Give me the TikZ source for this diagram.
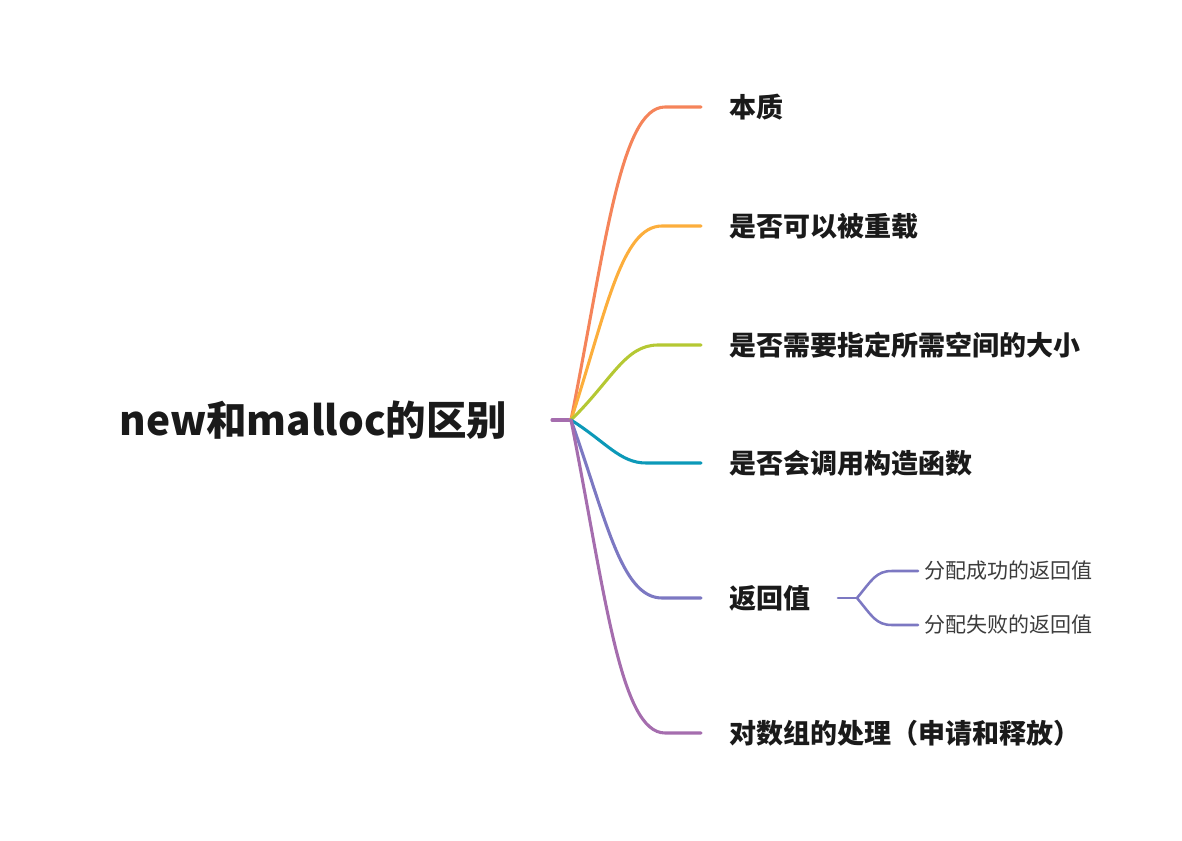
\documentclass[tikz,border=0pt]{standalone}
\usepackage{tikz}
\usepackage{fontspec}
\newfontfamily\cjk{Noto Sans CJK SC}
\definecolor{topic1}{RGB}{245,132,90}
\definecolor{topic2}{RGB}{252,174,60}
\definecolor{topic3}{RGB}{181,200,51}
\definecolor{topic4}{RGB}{12,153,184}
\definecolor{topic5}{RGB}{124,120,194}
\definecolor{topic6}{RGB}{165,109,174}
\definecolor{ink}{RGB}{26,26,26}
\usetikzlibrary{positioning}
\tikzset{%
  root/.style={inner sep=0, font=\cjk\bfseries\fontsize{30.4}{36}\selectfont, text=ink},% central topic
  topic/.style={anchor=west, inner xsep=21pt, inner ysep=0, font=\cjk\bfseries\fontsize{20.25}{24}\selectfont, text=ink},% main topics
  subtopic/.style={anchor=west, inner xsep=5pt, inner ysep=0, font=\cjk\fontsize{15.75}{19}\selectfont, text=ink!85},% sub topics
  branch/.style={line width=2.3pt, line cap=round},% main branch line
  twig/.style={line width=1.9pt, line cap=round}% sub branch line
}
\begin{document}
\begin{tikzpicture}[x=0.75pt, y=-0.75pt]
\useasboundingbox (0,0) rectangle (1182,841);

\node[root] (c) at (313.5,420) {new和malloc的区别};
\coordinate (stub) at (552,420);
\coordinate (hub) at (571,420);
\draw[branch, topic6] (stub) -- (hub);

\node[topic] (t1) at (701,107) {本质};
\node[topic] (t2) at (701,226) {是否可以被重载};
\node[topic] (t3) at (701,345) {是否需要指定所需空间的大小};
\node[topic] (t4) at (701,463) {是否会调用构造函数};
\node[topic] (t5) at (701,598) {返回值};
\node[topic] (t6) at (701,733) {对数组的处理（申请和释放）};

\draw[branch, topic1] (hub) .. controls (605,250) and (620,107) .. (665,107) -- (t1.west);
\draw[branch, topic2] (hub) .. controls (606,313) and (621,226) .. (662,226) -- (t2.west);
\draw[branch, topic3] (hub) .. controls (612,380) and (625,345) .. (658,345) -- (t3.west);
\draw[branch, topic4] (hub) .. controls (606,442) and (620,463) .. (646,463) -- (t4.west);
\draw[branch, topic5] (hub) .. controls (606,518) and (621,598) .. (662,598) -- (t5.west);
\draw[branch, topic6] (hub) .. controls (605,592) and (620,733) .. (665,733) -- (t6.west);

% return value details
\coordinate (s5) at (838,598);
\coordinate (h5) at (857,598);
\node[subtopic] (r1) at (918,571) {分配成功的返回值};
\node[subtopic] (r2) at (918,625) {分配失败的返回值};
\draw[twig, topic5] (s5) -- (h5);
\draw[twig, topic5] (h5) .. controls (872,580) and (876,571) .. (892,571) -- (r1.west);
\draw[twig, topic5] (h5) .. controls (872,616) and (876,625) .. (892,625) -- (r2.west);

\end{tikzpicture}
\end{document}
